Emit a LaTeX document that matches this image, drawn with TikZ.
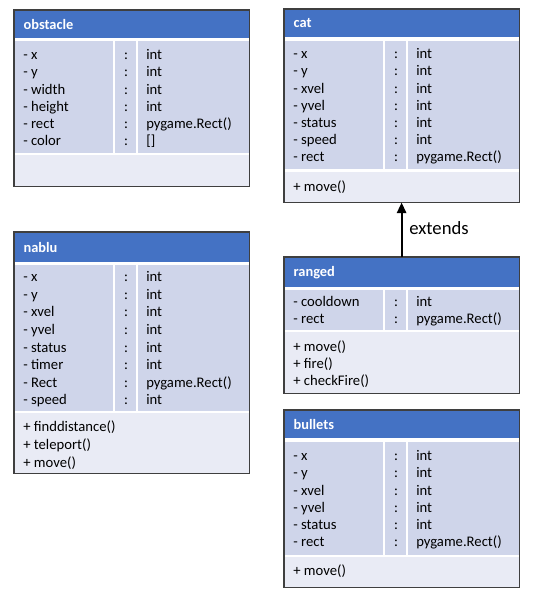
\documentclass[tikz,border=0pt]{standalone}
\usepackage{fontspec}
\setmainfont{Carlito}
\usetikzlibrary{arrows.meta}
\definecolor{hdrblue}{HTML}{4472C4}
\definecolor{attrblue}{HTML}{CFD5EA}
\definecolor{methblue}{HTML}{E9EBF5}
\definecolor{edgegray}{HTML}{3F3F3F}
\begin{document}
\begin{tikzpicture}[x=0.75pt,y=-0.75pt,
    head/.style={anchor=north west,fill=hdrblue,text=white,font=\fontsize{10.8}{12}\selectfont\bfseries,
      minimum width=176pt,text width=162pt,inner xsep=7pt,inner ysep=0pt,align=left},
    attrs/.style={anchor=north west,fill=attrblue,minimum width=176pt,inner sep=0pt},
    meths/.style={anchor=north west,fill=methblue,minimum width=176pt,inner sep=0pt},
    txt/.style={anchor=west,inner sep=0pt,text height=9pt,text depth=2pt,font=\fontsize{11}{13}\selectfont},
    colon/.style={txt,anchor=center},
    sep/.style={draw=white,line width=1.5pt},
    frame/.style={draw=edgegray,line width=1pt}]
\useasboundingbox (0,0) rectangle (533,592);

\node[head,minimum height=21pt] (obstacle) at (14,10) {obstacle};
\node[attrs,minimum height=84pt] (obstacle-a) at (14,41) {};
\node[meths,minimum height=23pt] (obstacle-m) at (14,155) {};
\draw[sep] (114,41) -- (114,153) (137,41) -- (137,153);
\foreach \n/\t [count=\i from 0] in {x/int,y/int,width/int,height/int,rect/pygame.Rect(),color/{[]}}{
  \node[txt] (obstacle-n\i) at (23,55+17.2*\i) {- \n};
  \node[colon] (obstacle-c\i) at (126,55+17.2*\i) {:};
  \node[txt] (obstacle-t\i) at (146,55+17.2*\i) {\t};
}
\draw[frame] (obstacle.north west) rectangle (obstacle-m.south east);

\node[head,minimum height=21pt] (cat) at (284,9) {cat};
\node[attrs,minimum height=96pt] (cat-a) at (284,41) {};
\node[meths,minimum height=22.5pt] (cat-m) at (284,172) {};
\draw[sep] (384,41) -- (384,169) (407,41) -- (407,169);
\foreach \n/\t [count=\i from 0] in {x/int,y/int,xvel/int,yvel/int,status/int,speed/int,rect/pygame.Rect()}{
  \node[txt] (cat-n\i) at (293,54+17.2*\i) {- \n};
  \node[colon] (cat-c\i) at (396,54+17.2*\i) {:};
  \node[txt] (cat-t\i) at (416,54+17.2*\i) {\t};
}
\node[txt] (cat-f0) at (293,187) {+ move()};
\draw[frame] (cat.north west) rectangle (cat-m.south east);

\node[head,minimum height=22.5pt] (ranged) at (284,257) {ranged};
\node[attrs,minimum height=30pt] (ranged-a) at (284,290) {};
\node[meths,minimum height=45.75pt] (ranged-m) at (284,332) {};
\draw[sep] (384,290) -- (384,330) (407,290) -- (407,330);
\foreach \n/\t [count=\i from 0] in {cooldown/int,rect/pygame.Rect()}{
  \node[txt] (ranged-n\i) at (293,302+17.2*\i) {- \n};
  \node[colon] (ranged-c\i) at (396,302+17.2*\i) {:};
  \node[txt] (ranged-t\i) at (416,302+17.2*\i) {\t};
}
\foreach \f [count=\i from 0] in {move(),fire(),checkFire()}
  \node[txt] (ranged-f\i) at (293,347+17*\i) {+ \f};
\draw[frame] (ranged.north west) rectangle (ranged-m.south east);

\draw[-{Triangle[length=8pt,width=7pt]},line width=1.5pt] (ranged.north) -- (cat-m.south);
\node[txt,font=\fontsize{14}{16}\selectfont] (extends) at (409,230) {extends};

\node[head,minimum height=22.5pt] (nablu) at (14,232) {nablu};
\node[attrs,minimum height=109.5pt] (nablu-a) at (14,265) {};
\node[meths,minimum height=45pt] (nablu-m) at (14,413) {};
\draw[sep] (114,265) -- (114,411) (137,265) -- (137,411);
\foreach \n/\t [count=\i from 0] in {x/int,y/int,xvel/int,yvel/int,status/int,timer/int,Rect/pygame.Rect(),speed/int}{
  \node[txt] (nablu-n\i) at (23,277+17.6*\i) {- \n};
  \node[colon] (nablu-c\i) at (126,277+17.6*\i) {:};
  \node[txt] (nablu-t\i) at (146,277+17.6*\i) {\t};
}
\foreach \f [count=\i from 0] in {finddistance(),teleport(),move()}
  \node[txt] (nablu-f\i) at (23,427+18*\i) {+ \f};
\draw[frame] (nablu.north west) rectangle (nablu-m.south east);

\node[head,minimum height=21pt] (bullets) at (284,410) {bullets};
\node[attrs,minimum height=84.75pt] (bullets-a) at (284,442) {};
\node[meths,minimum height=22.5pt] (bullets-m) at (284,557) {};
\draw[sep] (384,442) -- (384,555) (407,442) -- (407,555);
\foreach \n/\t [count=\i from 0] in {x/int,y/int,xvel/int,yvel/int,status/int,rect/pygame.Rect()}{
  \node[txt] (bullets-n\i) at (293,456+17.2*\i) {- \n};
  \node[colon] (bullets-c\i) at (396,456+17.2*\i) {:};
  \node[txt] (bullets-t\i) at (416,456+17.2*\i) {\t};
}
\node[txt] (bullets-f0) at (293,571) {+ move()};
\draw[frame] (bullets.north west) rectangle (bullets-m.south east);
\end{tikzpicture}
\end{document}
